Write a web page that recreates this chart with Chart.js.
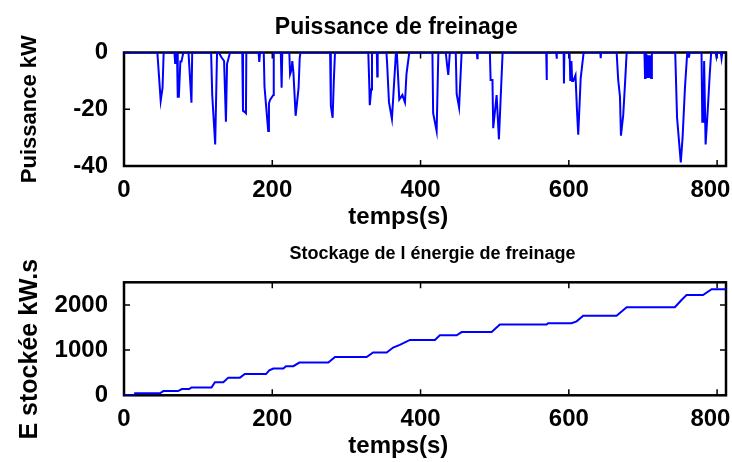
<!DOCTYPE html>
<html>
<head>
<meta charset="utf-8">
<script src="https://cdn.jsdelivr.net/npm/chart.js@4/dist/chart.umd.min.js"></script>
<style>
  body { margin: 0; background: #fff; }
  #wrap { position: relative; width: 732px; height: 462px; overflow: hidden; }
  .box { position: absolute; left: 0; }
</style>
</head>
<body>
<div id="wrap">
  <div class="box" style="top:0"><canvas id="puissance" width="732" height="240"></canvas></div>
  <div class="box" style="top:235px"><canvas id="stockage" width="732" height="227"></canvas></div>
</div>
<script>
// temps (s) / puissance de freinage (kW)
const t_puissance = [0, 45, 49.5, 52, 53.5, 68, 69, 70, 71.5, 72.5, 74, 76, 77.5, 80, 87, 91, 92,
  117.5, 119, 123, 125.5, 128, 131, 135, 137.5, 139, 141, 143, 159.5, 160.5, 163, 164.5, 165,
  181.5, 182.5, 183.5, 188.5, 189.5, 194.5, 195.5, 197, 201.4, 202, 211.5, 212.6, 213.5,
  223, 224, 226, 227, 228.5, 231.5, 235.5, 237, 238, 278, 279, 281.4, 283, 284.6,
  329.5, 331, 331.5, 333.5, 334.5, 341, 341.6, 342.2, 354, 355, 357.4, 361.4, 366.8,
  368, 371.3, 375.5, 379, 381, 384.8, 416, 417, 421.7, 424, 434, 436, 437.4, 439.5,
  447.5, 448.7, 452, 455.4, 476, 476.5, 477, 493.5, 494.5, 497, 498, 502.6, 505.7, 510.7,
  569.5, 570, 570.5, 583, 583.5, 584, 593, 593.4, 594, 601, 602, 603.5, 604.5, 606, 609,
  611, 612.7, 616, 620, 642.5, 643, 643.5, 664.5, 666.6, 669, 670.3, 673.4, 676, 678,
  702, 702.8, 703.5, 705, 706, 707, 708.5, 709.5, 711, 712, 743.5, 746, 751, 753.4, 756.6, 759.7,
  761, 762, 763, 779, 780, 781.5, 782.5, 784.5, 787.5, 790, 792, 798, 799, 800, 805, 806, 807, 812];
const p_puissance = [0, 0, -17, -12.5, 0, 0, -3.7, 0, 0, -15.6, -15.6, -3.2, -3.2, 0, 0, -17.7, 0,
  0, -15, -32.4, 0, 0, -1.5, -3, -24.4, -4, -2, 0, 0, -20.5, -21, -21.4, 0,
  0, -3.3, 0, 0, -12, -27.7, -18, -16.7, -15, 0, 0, -12.4, 0,
  0, -7.7, -6, -3, -7, -22.3, -12.4, -2, 0, 0, -18.7, -23, -10, 0,
  0, -12.6, -18.6, -13, 0, 0, -8.5, 0, 0, -4.4, -17.5, -23.4, 0,
  0, -16.6, -15, -17.6, -7.6, 0, 0, -21.4, -27.7, 0, 0, -5, -7.9, 0,
  0, -14.6, -19.4, 0, 0, -2, 0, 0, -9.7, -9.7, -26.7, -15, -30.6, 0,
  0, -9.7, 0, 0, -2.2, 0, 0, -10.9, 0, 0, -10, -3, -10, -10, -8,
  -20.3, -29, -9, 0, 0, -2, 0, 0, -9.7, -15.6, -29.3, -22, -10, 0,
  0, -9, 0, -1, -9, -1, -9, -1, -9, 0, 0, -23, -38.7, -30.2, -12.6, 0,
  0, -1.8, 0, 0, -24.4, -24.4, -3, -32.4, -19.7, -8, 0, 0, -1.5, 0, 0, -2, 0, 0];

// temps (s) / energie stockee (kW.s)
const t_energie = [0, 14, 15, 48.5, 53, 73, 78, 88, 91, 118, 122.7, 134, 140.7, 156.4, 163,
  191.5, 196, 201.4, 214.9, 218.5, 228.4, 236.5, 275.6, 284.6, 327.3, 336, 354.3, 363, 372,
  385.7, 419.4, 426, 448.7, 455.4, 495.9, 507, 570, 572, 603.7, 610.5, 619.4, 664.4, 678,
  743, 752, 758.8, 781, 792.6, 812];
const e_energie = [0, 0, 43, 43, 93, 93, 137, 137, 174, 174, 289, 289, 391, 391, 470,
  470, 550, 593, 593, 644, 644, 724, 724, 848, 848, 948, 948, 1057, 1115,
  1224, 1224, 1326, 1326, 1398, 1398, 1565, 1565, 1593, 1593, 1637, 1761, 1761, 1948,
  1948, 2109, 2217, 2217, 2348, 2348];

const x_max = 812;
const x_ticks = [0, 200, 400, 600, 800];
const y_ticks_puissance = [-40, -20, 0];
const y_ticks_energie = [0, 1000, 2000];

const fam = "'Liberation Sans', Arial, Helvetica, sans-serif";
const nb = n => '\u00a0'.repeat(n);

// MATLAB-like box with inward ticks on all four sides
const matlabBox = {
  id: 'matlabBox',
  beforeDatasetsDraw(chart) {
    const {ctx, chartArea: a, scales} = chart;
    const len = 6;
    ctx.save();
    ctx.strokeStyle = '#000';
    ctx.lineWidth = 2.5;
    ctx.strokeRect(a.left, a.top, a.right - a.left, a.bottom - a.top);
    ctx.lineWidth = 1.5;
    ctx.beginPath();
    scales.x.ticks.forEach(tk => {
      const px = scales.x.getPixelForValue(tk.value);
      ctx.moveTo(px, a.bottom); ctx.lineTo(px, a.bottom - len);
      ctx.moveTo(px, a.top); ctx.lineTo(px, a.top + len);
    });
    scales.y.ticks.forEach(tk => {
      const py = scales.y.getPixelForValue(tk.value);
      ctx.moveTo(a.left, py); ctx.lineTo(a.left + len, py);
      ctx.moveTo(a.right, py); ctx.lineTo(a.right - len, py);
    });
    ctx.stroke();
    ctx.restore();
  }
};

function makeChart(cfg) {
  return new Chart(document.getElementById(cfg.id), {
    type: 'line',
    data: {
      datasets: [{
        data: cfg.xs.map((x, i) => ({x: x, y: cfg.ys[i]})),
        borderColor: '#0000ff',
        borderWidth: 2,
        pointRadius: 0,
        tension: 0,
        fill: false
      }]
    },
    options: {
      responsive: false,
      devicePixelRatio: 1,
      animation: false,
      layout: { padding: { left: 0, right: 6, top: 0, bottom: 0 } },
      plugins: {
        legend: { display: false },
        tooltip: { enabled: false },
        title: {
          display: true,
          text: cfg.title,
          fullSize: false,
          color: '#000',
          font: { family: fam, size: cfg.titleSize, weight: 'bold', lineHeight: 1.2 },
          padding: cfg.titlePad
        }
      },
      scales: {
        x: {
          type: 'linear',
          min: 0,
          max: x_max,
          grid: { display: false, drawTicks: false },
          border: { display: false },
          afterBuildTicks(s) { s.ticks = x_ticks.map(v => ({value: v})); },
          ticks: {
            color: '#000',
            padding: 10,
            maxRotation: 0,
            autoSkip: false,
            // last label pulled a little inside the page, as in the picture
            callback: v => v === x_ticks[x_ticks.length - 1] ? String(v) + nb(2) : String(v),
            font: { family: fam, size: 24, weight: 'bold' }
          },
          title: {
            display: true,
            text: 'temps(s)' + nb(8),
            color: '#000',
            font: { family: fam, size: 24, weight: 'bold', lineHeight: 1.2 },
            padding: { top: 0, bottom: cfg.xTitlePadB }
          },
          afterFit(s) { s.height = cfg.xAxisH; s.paddingLeft = 0; s.paddingRight = 0; }
        },
        y: {
          min: cfg.yMin,
          max: cfg.yMax,
          grid: { display: false, drawTicks: false },
          border: { display: false },
          afterBuildTicks(s) { s.ticks = cfg.yTicks.map(v => ({value: v})); },
          ticks: {
            color: '#000',
            padding: 16,
            autoSkip: false,
            callback: v => String(v),
            font: { family: fam, size: 24, weight: 'bold' }
          },
          title: {
            display: true,
            text: cfg.yTitle,
            color: '#000',
            font: { family: fam, size: cfg.yTitleSize, weight: 'bold', lineHeight: 1.2 },
            padding: { top: cfg.yTitlePadT, bottom: 0 }
          },
          afterFit(s) { s.width = 124; s.paddingTop = 0; s.paddingBottom = 0; }
        }
      }
    },
    plugins: [matlabBox]
  });
}

makeChart({
  id: 'puissance', title: 'Puissance de freinage' + nb(9), titleSize: 23,
  titlePad: { top: 14, bottom: 10.9 },
  xs: t_puissance, ys: p_puissance,
  yTitle: 'Puissance kW', yTitleSize: 22, yTitlePadT: 17,
  yMin: -40, yMax: 0, yTicks: y_ticks_puissance,
  xAxisH: 74, xTitlePadB: 8.6
});
makeChart({
  id: 'stockage', title: nb(3) + 'Stockage de l énergie de freinage', titleSize: 18,
  titlePad: { top: 8, bottom: 17.7 },
  xs: t_energie, ys: e_energie,
  yTitle: 'E stockée kW.s' + nb(3), yTitleSize: 25, yTitlePadT: 15,
  yMin: 0, yMax: 2500, yTicks: y_ticks_energie,
  xAxisH: 66.7, xTitlePadB: 1.6
});
</script>
</body>
</html>
